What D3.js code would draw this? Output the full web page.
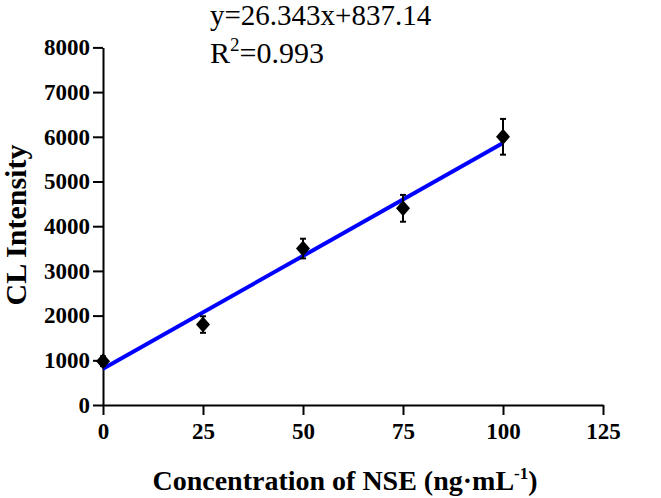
<!DOCTYPE html>
<html>
<head>
<meta charset="utf-8">
<script src="https://cdn.jsdelivr.net/npm/d3@7"></script>
<style>
html,body{margin:0;padding:0;background:#fff;}
svg{display:block;}
text{font-family:"Liberation Serif","Times New Roman",serif;}
</style>
</head>
<body>
<svg id="chart" width="661" height="498"></svg>
<script>
// Data
const concentrations = [0, 25, 50, 75, 100];
const intensities = [980, 1800, 3500, 4400, 6000];
const errors = [110, 185, 220, 300, 400];
const fitX = [0, 100];
const fitY = [810, 5860];
const xTicks = [0, 25, 50, 75, 100, 125];
const yTicks = [0, 1000, 2000, 3000, 4000, 5000, 6000, 7000, 8000];
const equationText = "y=26.343x+837.14";
const r2Value = "0.993";
const xTitle = "Concentration of NSE (ng\u00B7mL";
const yTitle = "CL Intensity";

const svg = d3.select("#chart");
const x = d3.scaleLinear().domain([0, 125]).range([103, 603]);
const y = d3.scaleLinear().domain([0, 8000]).range([405, 47.4]);

// axes
const xAxis = svg.append("g").attr("transform", "translate(0,405)")
  .call(d3.axisBottom(x).tickValues(xTicks).tickFormat(d3.format("d")).tickSizeInner(10).tickSizeOuter(0).tickPadding(8));
const yAxis = svg.append("g").attr("transform", "translate(103,0)")
  .call(d3.axisLeft(y).tickValues(yTicks).tickFormat(d3.format("d")).tickSizeInner(10).tickSizeOuter(0).tickPadding(3));
[xAxis, yAxis].forEach(g => {
  g.select(".domain").attr("stroke", "#000").attr("stroke-width", 2);
  g.selectAll(".tick line").attr("stroke", "#000").attr("stroke-width", 2);
  g.selectAll(".tick text").attr("fill", "#000")
    .style("font-family", '"Liberation Serif","Times New Roman",serif')
    .style("font-weight", "bold").style("font-size", "23px");
});

// fit line
svg.append("line")
  .attr("x1", x(fitX[0])).attr("y1", y(fitY[0]))
  .attr("x2", x(fitX[1])).attr("y2", y(fitY[1]))
  .attr("stroke", "#0000ff").attr("stroke-width", 4);

// error bars
const pts = concentrations.map((c, i) => ({c, v: intensities[i], e: errors[i]}));
const eb = svg.append("g").attr("stroke", "#000").attr("stroke-width", 2);
pts.forEach(p => {
  eb.append("line").attr("x1", x(p.c)).attr("x2", x(p.c)).attr("y1", y(p.v - p.e)).attr("y2", y(p.v + p.e));
  [p.v - p.e, p.v + p.e].forEach(v => {
    eb.append("line").attr("x1", x(p.c) - 3).attr("x2", x(p.c) + 3).attr("y1", y(v)).attr("y2", y(v));
  });
});

// diamonds
svg.append("g").selectAll("path").data(pts).join("path")
  .attr("d", d => {
    const cx = x(d.c), cy = y(d.v), w = 7, h = 8;
    return `M${cx},${cy - h}L${cx + w},${cy}L${cx},${cy + h}L${cx - w},${cy}Z`;
  })
  .attr("fill", "#000");

// equation text
svg.append("text").attr("x", 210).attr("y", 25).attr("font-size", 29).attr("fill", "#000").text(equationText);
const r2 = svg.append("text").attr("x", 210).attr("y", 63).attr("font-size", 30).attr("fill", "#000");
r2.append("tspan").text("R");
r2.append("tspan").attr("font-size", 19).attr("dy", -12).text("2");
r2.append("tspan").attr("dy", 12).text("=" + r2Value);

// axis titles
const xt = svg.append("text").attr("x", 345).attr("y", 490).attr("text-anchor", "middle")
  .attr("font-size", 28).attr("font-weight", "bold").attr("fill", "#000");
xt.append("tspan").text(xTitle);
xt.append("tspan").attr("font-size", 17).attr("dy", -11).text("-1");
xt.append("tspan").attr("dy", 11).text(")");

svg.append("text").attr("transform", "translate(26,225) rotate(-90)").attr("text-anchor", "middle")
  .attr("font-size", 30).attr("font-weight", "bold").attr("fill", "#000").text(yTitle);
</script>
</body>
</html>
